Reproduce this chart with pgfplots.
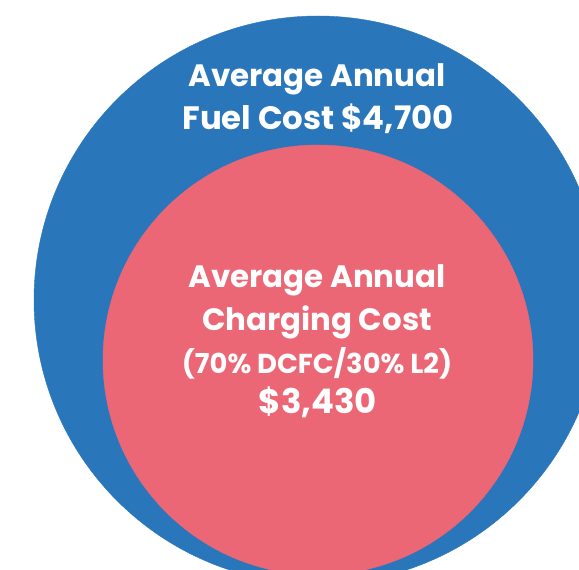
\documentclass[border=0pt]{standalone}
\usepackage{fontspec}
\setmainfont{Poppins}
\usepackage{pgfplots}
\pgfplotsset{compat=1.18}

\definecolor{fuelblue}{RGB}{42,118,187}
\definecolor{chargepink}{RGB}{236,103,117}

\begin{document}
\begin{tikzpicture}
\begin{axis}[
  width=579bp, height=570bp, scale only axis,
  xmin=0, xmax=579, ymin=0, ymax=570,
  hide axis, clip=true, set layers=standard]
% fuel cost circle (4,700) and charging cost circle (3,430)
\addplot[fuelblue, only marks, mark=*, mark size=284bp,
  mark options={solid, fill=fuelblue, draw=fuelblue}] coordinates {(318,270)};
\addplot[chargepink, only marks, mark=*, mark size=215bp,
  mark options={solid, fill=chargepink, draw=chargepink}] coordinates {(318,210)};

\begin{pgfonlayer}{axis foreground}
\node[anchor=base, text=white, font=\bfseries\fontsize{31}{36}\selectfont] at (axis cs:317,483) {Average Annual};
\node[anchor=base, text=white, font=\bfseries\fontsize{32.5}{36}\selectfont] at (axis cs:318,440) {Fuel Cost \$4,700};

\node[anchor=base, text=white, font=\bfseries\fontsize{31}{36}\selectfont] at (axis cs:317,283) {Average Annual};
\node[anchor=base, text=white, font=\bfseries\fontsize{31}{36}\selectfont] at (axis cs:317,240) {Charging Cost};
\node[anchor=base, text=white, font=\bfseries\fontsize{27.5}{30}\selectfont] at (axis cs:317,197) {(70\% DCFC/30\% L2)};
\node[anchor=base, text=white, font=\bfseries\fontsize{34}{36}\selectfont] at (axis cs:318,157) {\$3,430};
\end{pgfonlayer}
\end{axis}
\pgfresetboundingbox
\useasboundingbox (0,0) rectangle (579bp,570bp);
\end{tikzpicture}
\end{document}
